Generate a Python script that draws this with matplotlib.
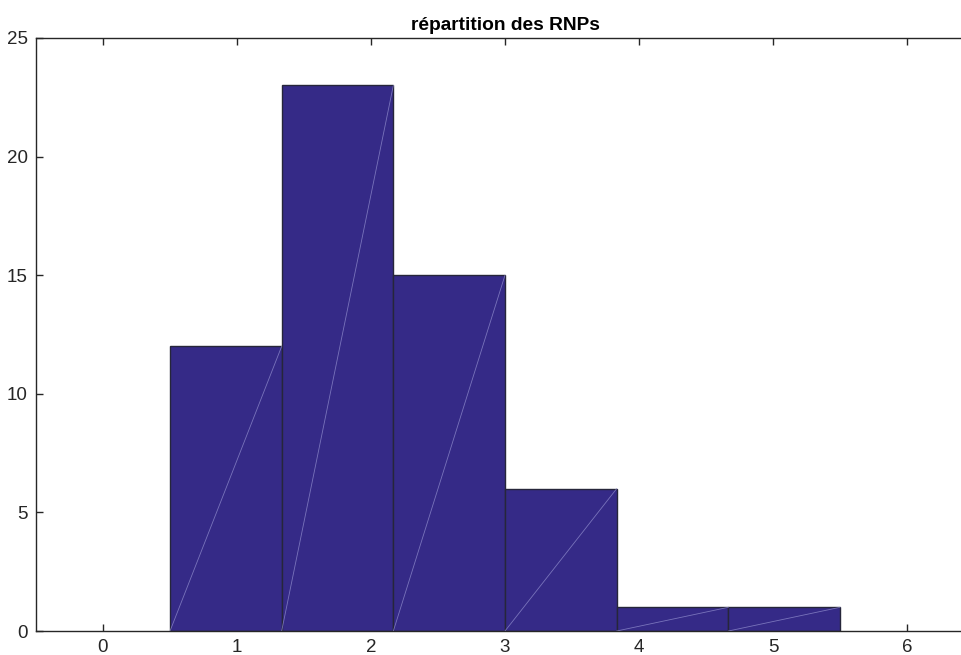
import numpy as np
import matplotlib.pyplot as plt

plt.rcParams['font.family'] = ['Liberation Sans', 'DejaVu Sans']

# histogram of RNP values (6 bins from 0.5 to 5.5)
bin_edges = [0.5, 1.3333, 2.1667, 3.0, 3.8333, 4.6667, 5.5]
counts = [12, 23, 15, 6, 1, 1]
xticks = [0, 1, 2, 3, 4, 5, 6]
yticks = [0, 5, 10, 15, 20, 25]

fig = plt.figure(figsize=(9.62, 6.55), dpi=100)
# axes box runs a little past the right edge of the figure, like the original
ax = fig.add_axes([36 / 962, 0.0366, 938 / 962, 0.9054])

edges = np.array(bin_edges)
widths = np.diff(edges)
ax.bar(edges[:-1], counts, width=widths, align='edge',
       color='#352a87', edgecolor='#26263a', linewidth=1.0, zorder=2)

# faint triangulation seam that matlab leaves in each patch
for x0, w, c in zip(edges[:-1], widths, counts):
    ax.plot([x0, x0 + w], [0, c], color='#8a86c8', lw=0.6, alpha=0.8, zorder=3)

ax.set_xlim(-0.5, 6.5)
ax.set_ylim(0, 25)
ax.set_xticks(xticks)
ax.set_yticks(yticks)
ax.tick_params(direction='in', length=5, width=1, labelsize=13.5,
               top=True, right=True, colors='#262626', pad=6)
for s in ax.spines.values():
    s.set_color('#262626')
    s.set_linewidth(1.0)

ax.set_title('répartition des RNPs', fontsize=13.8, fontweight='bold', pad=6)

fig.savefig('out.png', dpi=100)
